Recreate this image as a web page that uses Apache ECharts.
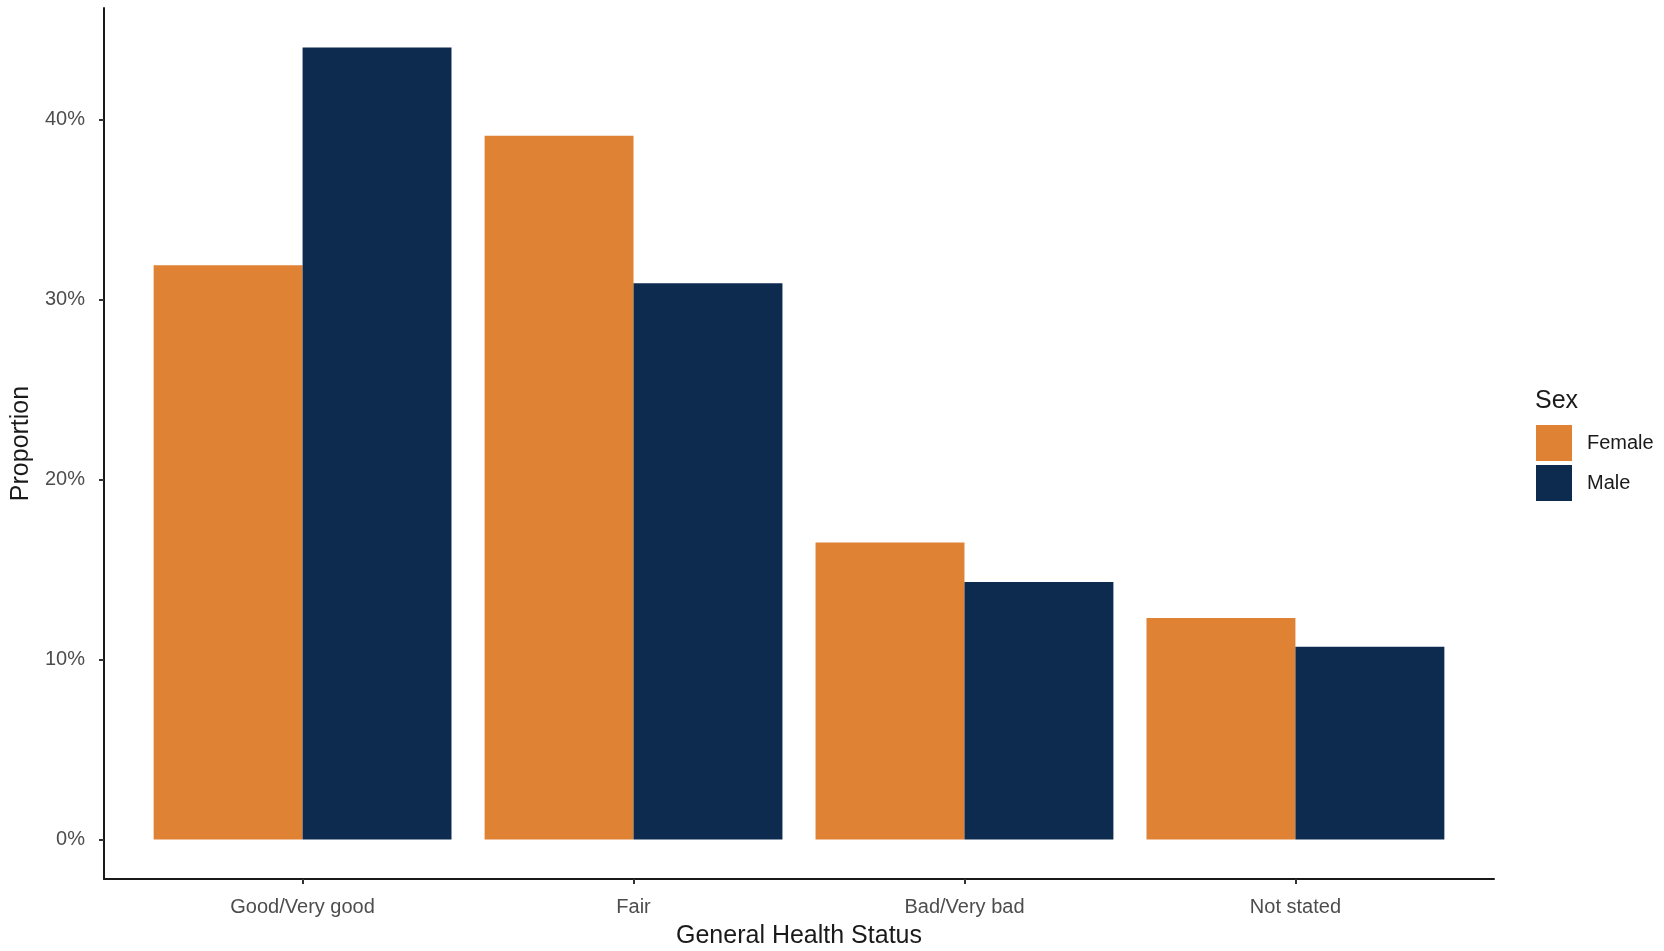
<!DOCTYPE html>
<html>
<head>
<meta charset="utf-8">
<script src="https://cdn.jsdelivr.net/npm/echarts@6/dist/echarts.min.js"></script>
<style>
html,body{margin:0;padding:0;background:#fff;}
#chart{width:1664px;height:951px;}
</style>
</head>
<body>
<div id="chart"></div>
<script>
const categories = ['Good/Very good', 'Fair', 'Bad/Very bad', 'Not stated'];
const femaleValues = [31.9, 39.1, 16.5, 12.3];
const maleValues = [44.0, 30.9, 14.3, 10.7];
const yTicks = [0, 10, 20, 30, 40];
const seriesNames = ['Female', 'Male'];
const colors = ['#df8234', '#0d2a4f'];

const catPositions = categories.map((c, i) => i + 1);
const toPoints = vals => vals.map((v, i) => [catPositions[i], v]);

const FONT = '"Liberation Sans", Arial, sans-serif';
const chart = echarts.init(document.getElementById('chart'), null, {renderer: 'canvas'});
chart.setOption({
  animation: false,
  backgroundColor: '#ffffff',
  title: {
    text: 'Sex',
    left: 1530,
    top: 384,
    textStyle: {fontFamily: FONT, fontSize: 25, fontWeight: 'normal', color: '#1a1a1a'}
  },
  legend: {
    orient: 'vertical',
    left: 1531,
    top: 420,
    itemWidth: 36,
    itemHeight: 36,
    itemGap: 4,
    icon: 'rect',
    data: seriesNames,
    textStyle: {fontFamily: FONT, fontSize: 20, color: '#1a1a1a', padding: [0, 0, 0, 10]}
  },
  grid: {left: 104, right: 170, top: 8, bottom: 72, containLabel: false, outerBoundsMode: 'none'},
  xAxis: {
    type: 'value',
    min: 0.4,
    max: 4.6,
    name: 'General Health Status',
    nameLocation: 'middle',
    nameGap: 45,
    nameTextStyle: {fontFamily: FONT, fontSize: 25, color: '#1a1a1a'},
    splitLine: {show: false},
    axisLine: {show: true, onZero: false, lineStyle: {color: '#1a1a1a', width: 2}},
    axisTick: {show: true, length: 5, lineStyle: {color: '#333333', width: 2}, customValues: catPositions},
    axisLabel: {
      customValues: catPositions,
      margin: 18,
      fontFamily: FONT, fontSize: 20, color: '#4d4d4d',
      formatter: v => categories[Math.round(v) - 1] || ''
    }
  },
  yAxis: {
    type: 'value',
    min: -2.2,
    max: 46.2,
    name: 'Proportion',
    nameLocation: 'middle',
    nameGap: 64,
    nameTextStyle: {fontFamily: FONT, fontSize: 25, color: '#1a1a1a'},
    splitLine: {show: false},
    axisLine: {show: true, lineStyle: {color: '#1a1a1a', width: 2}},
    axisTick: {show: true, length: 5, lineStyle: {color: '#333333', width: 2}, customValues: yTicks},
    axisLabel: {
      customValues: yTicks,
      margin: 19,
      padding: [6, 0, 0, 0],
      fontFamily: FONT, fontSize: 20, color: '#4d4d4d',
      formatter: v => Math.round(v) + '%'
    }
  },
  series: [
    {
      name: seriesNames[0],
      type: 'bar',
      data: toPoints(femaleValues),
      barWidth: '45%',
      barGap: '0%',
      itemStyle: {color: colors[0]}
    },
    {
      name: seriesNames[1],
      type: 'bar',
      data: toPoints(maleValues),
      barWidth: '45%',
      barGap: '0%',
      itemStyle: {color: colors[1]}
    }
  ]
});
</script>
</body>
</html>
